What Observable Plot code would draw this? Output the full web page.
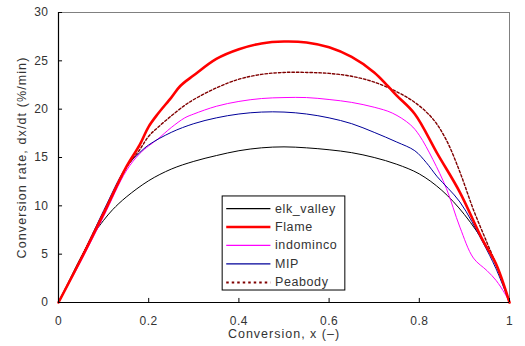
<!DOCTYPE html>
<html>
<head>
<meta charset="utf-8">
<script src="https://cdn.jsdelivr.net/npm/d3@7"></script>
<script src="https://cdn.jsdelivr.net/npm/@observablehq/plot@0.6"></script>
<style>
  html, body { margin: 0; padding: 0; background: #fff; }
  svg { font-family: "Liberation Sans", Arial, sans-serif; }
</style>
</head>
<body>
<div id="chart"></div>
<script>
// ---- data ----
const seriesNames = ["elk_valley", "Flame", "indominco", "MIP", "Peabody"];

const elkX = [0, 0.02, 0.05, 0.08, 0.1, 0.12, 0.15, 0.2, 0.25, 0.3, 0.35, 0.4, 0.45, 0.5, 0.55, 0.6, 0.65, 0.7, 0.75, 0.8, 0.85, 0.9, 0.95, 0.975, 1];
const elkY = [0, 1.9, 4.7, 7.2, 8.5, 9.6, 10.9, 12.6, 13.8, 14.6, 15.2, 15.7, 16.0, 16.1, 16.0, 15.8, 15.5, 15.0, 14.3, 13.3, 11.6, 9.1, 5.7, 3.3, 0];

const flameX = [0, 0.05, 0.1, 0.15, 0.18, 0.2, 0.22, 0.25, 0.27, 0.3, 0.35, 0.4, 0.45, 0.5, 0.55, 0.6, 0.65, 0.7, 0.73, 0.75, 0.79, 0.84, 0.89, 0.94, 0.97, 1];
const flameY = [0, 4.5, 9.2, 14.0, 16.3, 18.2, 19.5, 21.2, 22.4, 23.5, 25.2, 26.2, 26.8, 27.0, 26.9, 26.4, 25.4, 23.8, 22.4, 21.4, 19.5, 15.4, 11.4, 6.5, 4.0, 0];

const indomincoX = [0, 0.05, 0.1, 0.15, 0.18, 0.2, 0.22, 0.25, 0.28, 0.3, 0.35, 0.4, 0.45, 0.5, 0.55, 0.6, 0.65, 0.7, 0.74, 0.78, 0.8, 0.83, 0.86, 0.89, 0.92, 0.95, 0.97, 0.99, 1];
const indomincoY = [0, 4.3, 8.9, 13.6, 15.4, 16.2, 16.9, 18.1, 19.1, 19.5, 20.3, 20.8, 21.1, 21.2, 21.2, 21.0, 20.7, 20.2, 19.6, 18.4, 17.3, 14.8, 11.8, 7.8, 4.6, 3.3, 2.3, 0.9, 0];

const mipX = [0, 0.05, 0.1, 0.15, 0.18, 0.2, 0.25, 0.3, 0.35, 0.4, 0.45, 0.5, 0.55, 0.6, 0.65, 0.7, 0.75, 0.79, 0.815, 0.84, 0.89, 0.94, 0.97, 1];
const mipY = [0, 4.6, 9.5, 14.0, 15.5, 16.3, 17.6, 18.5, 19.1, 19.5, 19.7, 19.7, 19.5, 19.1, 18.5, 17.6, 16.6, 15.7, 14.5, 13.0, 10.4, 6.3, 3.5, 0];

const peabodyX = [0, 0.05, 0.1, 0.15, 0.18, 0.2, 0.22, 0.25, 0.28, 0.3, 0.35, 0.4, 0.45, 0.5, 0.55, 0.6, 0.65, 0.7, 0.75, 0.79, 0.83, 0.86, 0.89, 0.92, 0.95, 0.975, 1];
const peabodyY = [0, 4.6, 9.3, 13.9, 15.8, 17.2, 18.1, 19.3, 20.4, 21.0, 22.2, 23.1, 23.6, 23.8, 23.8, 23.7, 23.4, 22.8, 21.8, 20.7, 19.0, 16.8, 13.5, 9.6, 6.2, 3.4, 0];

const xTicks = [0, 0.2, 0.4, 0.6, 0.8, 1];
const yTicks = [0, 5, 10, 15, 20, 25, 30];
const xLabel = "Conversion, x (\u2013)";
const yLabel = "Conversion rate, dx/dt (%/min)";

// ---- build tables ----
const xsList = [elkX, flameX, indomincoX, mipX, peabodyX];
const ysList = [elkY, flameY, indomincoY, mipY, peabodyY];
const table = (i) => xsList[i].map((x, j) => ({x, y: ysList[i][j], name: seriesNames[i]}));

const styles = {
  elk_valley: {stroke: "#000000", strokeWidth: 1},
  Flame:      {stroke: "#ff0000", strokeWidth: 2.6},
  indominco:  {stroke: "#ff00ff", strokeWidth: 1},
  MIP:        {stroke: "#000099", strokeWidth: 1},
  Peabody:    {stroke: "#800000", strokeWidth: 1.4, strokeDasharray: "2.5,2"}
};
const order = ["elk_valley", "indominco", "MIP", "Peabody", "Flame"];

// legend layout (in data units of the chart)
const lg = {x1: 0.364, x2: 0.636, yTop: 10.97, yBot: 1.24, rowTop: 9.72, rowStep: 1.91, sx1: 0.373, sx2: 0.471, tx: 0.48};
const legendRows = seriesNames.map((n, i) => ({name: n, y: lg.rowTop - i * lg.rowStep}));

const marks = [
  Plot.frame({stroke: "#808080", strokeWidth: 1}),
  ...order.map(n => {
    const i = seriesNames.indexOf(n);
    return Plot.line(table(i), {x: "x", y: "y", curve: "catmull-rom", ...styles[n]});
  }),
  // legend box
  Plot.rect([lg], {x1: "x1", x2: "x2", y1: "yBot", y2: "yTop", fill: "white", stroke: "#000", strokeWidth: 1}),
  ...legendRows.map(r => Plot.ruleY([r], {y: "y", x1: lg.sx1, x2: lg.sx2, ...styles[r.name],
      strokeWidth: r.name === "Flame" ? 2.6 : (r.name === "Peabody" ? 2 : 1.2),
      strokeDasharray: r.name === "Peabody" ? "2.5,3" : null})),
  Plot.text(legendRows, {x: () => lg.tx, y: "y", text: "name", textAnchor: "start", fontSize: 12.5, fill: "#333"}),
  // axes lines
  Plot.ruleX([0], {stroke: "#000", strokeWidth: 1.2}),
  Plot.ruleY([0], {stroke: "#000", strokeWidth: 1.2}),
  // inward ticks
  Plot.ruleY(yTicks, {x1: 0, x2: 0.009, stroke: "#000"}),
  Plot.ruleX(xTicks, {y1: 0, y2: 0.42, stroke: "#000"}),
  // tick labels
  Plot.axisY(yTicks, {tickSize: 0, tickPadding: 10, fontSize: 12, label: null, color: "#333"}),
  Plot.axisX(xTicks, {tickSize: 0, tickPadding: 14, fontSize: 12, label: null, color: "#333",
    tickFormat: d => (d === 0 || d === 1) ? String(d) : d.toFixed(1)}),
  // axis labels
  Plot.text([yLabel], {frameAnchor: "left", textAnchor: "middle", dx: -37, rotate: -90, fontSize: 12.5, fill: "#333"}),
  Plot.text([xLabel], {frameAnchor: "bottom", textAnchor: "middle", dy: 35, fontSize: 12.5, fill: "#333"})
];

const chart = Plot.plot({
  width: 525,
  height: 346,
  marginLeft: 58,
  marginRight: 16,
  marginTop: 12,
  marginBottom: 44,
  x: {domain: [0, 1], axis: null},
  y: {domain: [0, 30], axis: null},
  style: {fontFamily: "'Liberation Sans', Arial, sans-serif", background: "white", overflow: "visible"},
  marks
});
document.getElementById("chart").appendChild(chart);

// letter spacing to mimic the original wide font
d3.select(chart).selectAll("text").each(function() {
  const t = this.textContent;
  if (t === yLabel) this.setAttribute("letter-spacing", "1.1");
  else if (t === xLabel) this.setAttribute("letter-spacing", "1");
  else if (seriesNames.includes(t)) this.setAttribute("letter-spacing", "0.6");
  else this.setAttribute("letter-spacing", "0.5");
});
</script>
</body>
</html>
